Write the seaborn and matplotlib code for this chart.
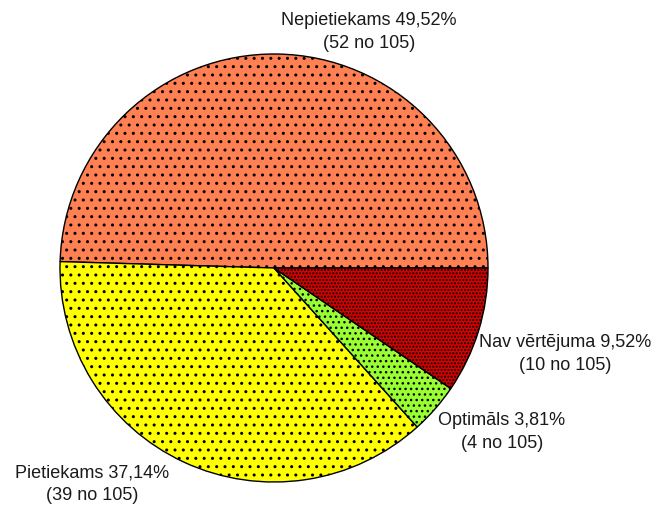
import matplotlib
matplotlib.use("Agg")
import matplotlib.pyplot as plt
import seaborn as sns

categories = ["Nepietiekams", "Pietiekams", "Optimāls", "Nav vērtējuma"]
counts = [52, 39, 4, 10]
total = 105
colors = ["#FF8052", "#FFFF00", "#99FF33", "#D80000"]
hatches = ["..", "..", "...", "....."]

sns.set_theme(style="white")
plt.rcParams["font.family"] = ["Liberation Sans", "DejaVu Sans"]
plt.rcParams["hatch.linewidth"] = 1.0

fig = plt.figure(figsize=(6.56, 5.08), dpi=100)
ax = fig.add_axes([0, 0, 1, 1])

wedges, _ = ax.pie(counts, colors=colors, startangle=0, counterclock=True,
                   center=(274, 240), radius=214,
                   wedgeprops=dict(edgecolor="black", linewidth=1.0))
for w, h in zip(wedges, hatches):
    w.set_hatch(h)
ax.set_xlim(0, 656)
ax.set_ylim(0, 508)
ax.set_aspect("equal")
ax.axis("off")

label_pos = [(369, 476), (92, 24), (502, 76), (565, 154)]
for name, c, (x, y) in zip(categories, counts, label_pos):
    pct = f"{100 * c / total:.2f}".replace(".", ",")
    ax.text(x, y, f"{name} {pct}%\n({c} no {total})", ha="center", va="center",
            fontsize=13, color="#1a1a1a", linespacing=1.45)

fig.savefig("out.png", dpi=100)
